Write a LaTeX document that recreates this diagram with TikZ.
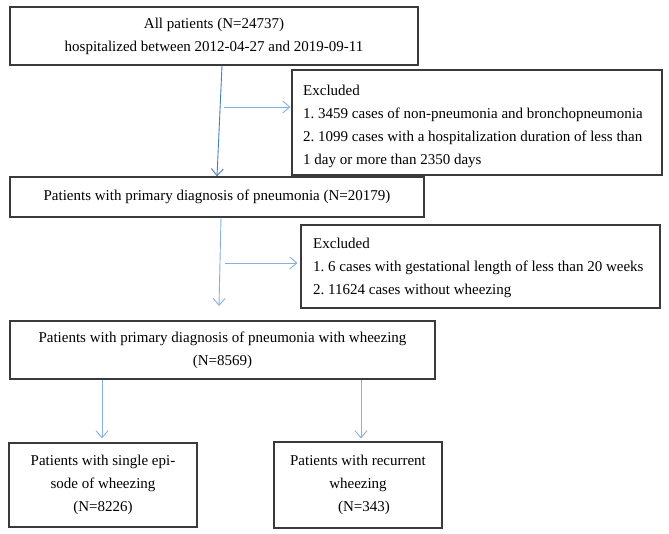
\documentclass[tikz,border=0pt]{standalone}
\usepackage{fontspec}
\setmainfont{Liberation Serif}
\usetikzlibrary{arrows.meta,calc}
\definecolor{arrdark}{HTML}{4A7DC4}
\definecolor{arrlight}{HTML}{85B0E4}
\definecolor{boxline}{HTML}{3A3A3A}
\begin{document}
\begin{tikzpicture}[x=1pt,y=-1pt,
  box/.style={draw=boxline,line width=1.2pt,rectangle,inner sep=0pt,
    font=\fontsize{15pt}{23pt}\selectfont\frenchspacing},
  cbox/.style={box,align=center},
  ltext/.style={inner sep=0pt,align=left,anchor=west,
    font=\fontsize{15pt}{23pt}\selectfont\frenchspacing},
  conn/.style={line width=0.9pt,-{Straight Barb[length=7pt,width=12pt,line width=0.9pt]}},
]
\useasboundingbox (0,0) rectangle (669,533);
\fill[white] (0,0) rectangle (669,533);

\node[cbox,minimum width=408pt,minimum height=58pt] (b1) at (214,36)
  {All patients (N=24737)\\hospitalized between 2012-04-27 and 2019-09-11};
\node[box,minimum width=370pt,minimum height=105pt] (e1) at (477,122.5) {};
\node[ltext] (e1t) at (303,126)
  {Excluded\\1. 3459 cases of non-pneumonia and bronchopneumonia\\2. 1099 cases with a hospitalization duration of less than\\1 day or more than 2350 days};
\node[cbox,minimum width=414pt,minimum height=40pt] (b2) at (217,197)
  {Patients with primary diagnosis of pneumonia (N=20179)};
\node[box,minimum width=359pt,minimum height=83pt] (e2) at (480.5,266.5) {};
\node[ltext] (e2t) at (313,267.5)
  {Excluded\\1. 6 cases with gestational length of less than 20 weeks\\2. 11624 cases without wheezing};
\node[cbox,minimum width=425pt,minimum height=58pt] (b3) at (222.5,350)
  {Patients with primary diagnosis of pneumonia with wheezing\\(N=8569)};
\node[cbox,minimum width=188pt,minimum height=84pt] (b4) at (103,485)
  {Patients with single epi-\\sode of wheezing\\(N=8226)};
\node[cbox,minimum width=168pt,minimum height=86pt] (b5) at (358,485)
  {Patients with recurrent\\wheezing\\\hspace*{12pt}(N=343)};

\coordinate (j1) at (224,107);
\coordinate (j2) at (225,263);
\coordinate (t2) at (219,306);

\draw[conn,arrdark] (222,0 |- b1.south) -- (217,0 |- b2.north);
\draw[conn,arrlight] (j1) -- ([xshift=-1pt]e1.west |- j1);
\draw[conn,arrlight] (221,0 |- b2.south) -- (t2);
\draw[conn,arrlight,shorten >=3pt] (j2) -- (e2.west |- j2);
\draw[conn,arrlight,shorten >=4pt] (102,0 |- b3.south) -- (102,0 |- b4.north);
\draw[conn,arrlight,shorten >=3pt] (361,0 |- b3.south) -- (361,0 |- b5.north);
\end{tikzpicture}
\end{document}
